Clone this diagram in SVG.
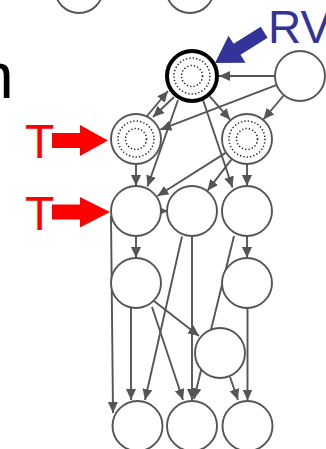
<svg xmlns="http://www.w3.org/2000/svg" width="326" height="449" viewBox="0 0 326 449">
<style>
.n{fill:#fff;stroke:#555;stroke-width:1.9}
.thick{fill:#fff;stroke:#000;stroke-width:4}
.dot{fill:none;stroke:#222;stroke-width:1.5;stroke-dasharray:1.3 2.1}
.e{stroke:#555;stroke-width:1.9;fill:none;marker-end:url(#ah)}
.lbl{font-family:"Liberation Sans",Arial,sans-serif}
</style>
<defs>
<marker id="ah" markerUnits="userSpaceOnUse" markerWidth="12" markerHeight="11" refX="11" refY="5" orient="auto">
<path d="M0,0 L11,5 L0,10 z" fill="#555"/>
</marker>
</defs>
<rect width="326" height="449" fill="#fff"/>
<text class="lbl" x="-22" y="98" font-size="64" fill="#000">n</text>
<text class="lbl" x="268" y="43" font-size="46" fill="#333399">RV</text>
<g id="labels">
<text class="lbl" x="25" y="158" font-size="48" fill="#ff0000">T</text>
<text class="lbl" x="25" y="230" font-size="48" fill="#ff0000">T</text>
<polygon points="52,133 80,133 80,125 108,140.5 80,156 80,148 52,148" fill="#ff0000"/>
<polygon points="52,204.5 80,204.5 80,197 110,212 80,227.5 80,219.5 52,219.5" fill="#ff0000"/>
<polygon transform="translate(215,63) rotate(148)" points="0,0 -26,16 -26,6.5 -58,6.5 -58,-6.5 -26,-6.5 -26,-16" fill="#333399"/>
</g>
<g id="connectors">
<line class="e" x1="275" y1="76" x2="219" y2="76"/>
<line class="e" x1="276.2" y1="85.1" x2="160.3" y2="129.7"/>
<line class="e" x1="283.6" y1="95.5" x2="263.4" y2="119.5"/>
<line class="e" x1="147" y1="116" x2="168" y2="91"/>
<line class="e" x1="174" y1="97" x2="153" y2="117"/>
<line class="e" x1="209.8" y1="96.4" x2="230.2" y2="119.8"/>
<line class="e" x1="178" y1="100" x2="147.5" y2="186.5"/>
<line class="e" x1="203" y1="100" x2="232.5" y2="187.5"/>
<line class="e" x1="225.6" y1="152.9" x2="157.4" y2="196"/>
<line class="e" x1="231.5" y1="159.3" x2="207.5" y2="190.7"/>
<line class="e" x1="136" y1="164" x2="136" y2="186"/>
<line class="e" x1="247" y1="164" x2="247" y2="186"/>
<line class="e" x1="157" y1="211" x2="168" y2="211"/>
<line class="e" x1="136" y1="236" x2="136" y2="258"/>
<line class="e" x1="247" y1="236" x2="247" y2="258"/>
<line class="e" x1="111" y1="216" x2="113" y2="413"/>
<line class="e" x1="182" y1="236.5" x2="145" y2="400"/>
<line class="e" x1="192" y1="236" x2="192" y2="400"/>
<line class="e" x1="234" y1="236" x2="194" y2="399"/>
<line class="e" x1="131" y1="307.5" x2="131" y2="400"/>
<line class="e" x1="154" y1="301" x2="199" y2="336"/>
<line class="e" x1="152" y1="307" x2="183" y2="400"/>
<line class="e" x1="247.5" y1="308" x2="247.5" y2="400.5"/>
<line class="e" x1="230" y1="377" x2="238" y2="400"/>
</g>
<g id="node-top1"><circle class="n" cx="79" cy="-11" r="24"/></g>
<g id="node-top2"><circle class="n" cx="190" cy="-11" r="24"/></g>
<g id="node-A"><circle class="thick" cx="192" cy="76" r="25"/><circle class="dot" cx="192" cy="76" r="18"/><circle class="dot" cx="192" cy="76" r="10.5"/></g>
<g id="node-B"><circle class="n" cx="300" cy="76" r="25"/></g>
<g id="node-C"><circle class="n" cx="136" cy="139" r="25"/><circle class="dot" cx="136" cy="139" r="18"/><circle class="dot" cx="136" cy="139" r="10.5"/></g>
<g id="node-D"><circle class="n" cx="247" cy="139" r="25"/><circle class="dot" cx="247" cy="139" r="18"/><circle class="dot" cx="247" cy="139" r="10.5"/></g>
<g id="node-E"><circle class="n" cx="136" cy="211" r="25"/></g>
<g id="node-F"><circle class="n" cx="192" cy="211" r="25"/></g>
<g id="node-G"><circle class="n" cx="247" cy="211" r="25"/></g>
<g id="node-H"><circle class="n" cx="136" cy="283" r="25"/></g>
<g id="node-I"><circle class="n" cx="247" cy="283" r="25"/></g>
<g id="node-J"><circle class="n" cx="220" cy="353" r="25"/></g>
<g id="node-K"><circle class="n" cx="137.5" cy="426" r="25"/></g>
<g id="node-L"><circle class="n" cx="192" cy="426" r="25"/></g>
<g id="node-M"><circle class="n" cx="247.5" cy="426" r="25"/></g>
</svg>
